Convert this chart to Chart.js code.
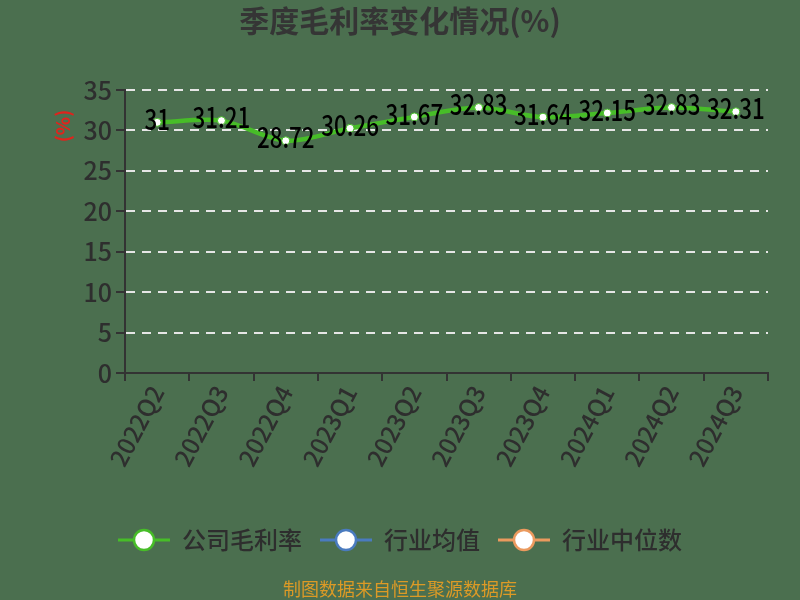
<!DOCTYPE html>
<html lang="zh">
<head>
<meta charset="UTF-8">
<title>季度毛利率变化情况</title>
<style>
  html, body { margin: 0; padding: 0; background: #4b6f4f; }
  #wrap { width: 800px; height: 600px; }
</style>
</head>
<body>
<div id="wrap"><canvas id="chart" width="800" height="600"></canvas></div>
<script src="https://cdn.jsdelivr.net/npm/chart.js"></script>
<script>
const quarters = ['2022Q2', '2022Q3', '2022Q4', '2023Q1', '2023Q2', '2023Q3', '2023Q4', '2024Q1', '2024Q2', '2024Q3'];
const grossMargin = [31, 31.21, 28.72, 30.26, 31.67, 32.83, 31.64, 32.15, 32.83, 32.31];
const industryAvg = [];
const industryMedian = [];
const yTicks = [0, 5, 10, 15, 20, 25, 30, 35];

const cjk = '"Noto Sans CJK SC", "Noto Sans", sans-serif';

// legend marker: short line with a circle in the middle
function legendIcon(color) {
    const c = document.createElement('canvas');
    c.width = 52; c.height = 26;
    const g = c.getContext('2d');
    g.strokeStyle = color; g.lineWidth = 3;
    g.beginPath(); g.moveTo(0, 13); g.lineTo(52, 13); g.stroke();
    g.fillStyle = '#fff'; g.lineWidth = 2.5;
    g.beginPath(); g.arc(26, 13, 10, 0, Math.PI * 2); g.fill(); g.stroke();
    return c;
}

// value labels + y title + footer
const extras = {
    id: 'extras',
    afterDatasetsDraw(chart) {
        const ctx = chart.ctx;
        const meta = chart.getDatasetMeta(0);
        meta.data.forEach((pt, i) => {
            ctx.save();
            ctx.translate(pt.x, pt.y - 3);
            ctx.scale(0.8, 1);
            ctx.font = '500 28px ' + cjk;
            ctx.fillStyle = '#000';
            ctx.textAlign = 'center';
            ctx.textBaseline = 'middle';
            ctx.fillText(String(grossMargin[i]), 0, 0);
            ctx.restore();
        });
    },
    afterDraw(chart) {
        const ctx = chart.ctx;
        ctx.save();
        ctx.translate(63, 126);
        ctx.rotate(-Math.PI / 2);
        ctx.font = 'bold 19px ' + cjk;
        ctx.fillStyle = '#e0231c';
        ctx.textAlign = 'center';
        ctx.textBaseline = 'middle';
        ctx.fillText('(%)', 0, 0);
        ctx.restore();

        ctx.save();
        ctx.font = '18px ' + cjk;
        ctx.fillStyle = '#dc9a26';
        ctx.textAlign = 'center';
        ctx.textBaseline = 'middle';
        ctx.fillText('制图数据来自恒生聚源数据库', 400, 589);
        ctx.restore();
    }
};

const bg = {
    id: 'bg',
    beforeDraw(chart) {
        const ctx = chart.ctx;
        ctx.save();
        ctx.fillStyle = '#4b6f4f';
        ctx.fillRect(0, 0, chart.width, chart.height);
        ctx.restore();
    }
};

new Chart(document.getElementById('chart'), {
    type: 'line',
    data: {
        labels: quarters,
        datasets: [
            {
                label: '公司毛利率',
                data: grossMargin,
                borderColor: '#47bd28',
                borderWidth: 4.5,
                pointBackgroundColor: '#ffffff',
                pointBorderColor: '#47bd28',
                pointRadius: 4,
                pointBorderWidth: 1,
                tension: 0.3,
                fill: false
            },
            {
                label: '行业均值',
                data: industryAvg,
                borderColor: '#4a7bbf',
                pointStyle: false
            },
            {
                label: '行业中位数',
                data: industryMedian,
                borderColor: '#eb9a5e',
                pointStyle: false
            }
        ]
    },
    options: {
        responsive: false,
        animation: false,
        layout: { padding: { left: 0, right: 0, top: 0, bottom: 38 } },
        plugins: {
            title: {
                display: true,
                text: '季度毛利率变化情况(%)',
                color: '#353535',
                font: { family: cjk, size: 30, weight: 'bold' },
                padding: { top: 3, bottom: 51 }
            },
            legend: {
                position: 'bottom',
                labels: {
                    color: '#2e2e2e',
                    font: { family: cjk, size: 24, weight: '500' },
                    usePointStyle: true,
                    pointStyleWidth: 52,
                    padding: 18,
                    generateLabels(chart) {
                        const cols = ['#47bd28', '#4a7bbf', '#eb9a5e'];
                        return chart.data.datasets.map((ds, i) => ({
                            text: ds.label,
                            fontColor: '#2e2e2e',
                            pointStyle: legendIcon(cols[i]),
                            datasetIndex: i,
                            hidden: false,
                            lineWidth: 0
                        }));
                    }
                }
            },
            tooltip: { enabled: false }
        },
        scales: {
            x: {
                offset: true,
                afterFit(s) { s.height = 137; },
                grid: {
                    display: true,
                    drawOnChartArea: false,
                    drawTicks: true,
                    tickLength: 8,
                    color: '#333',
                    lineWidth: 2,
                    offset: true
                },
                border: { color: '#333', width: 2 },
                ticks: {
                    color: '#2e2e2e',
                    font: { family: cjk, size: 24, weight: '500' },
                    minRotation: 62,
                    maxRotation: 62,
                    padding: 0
                }
            },
            y: {
                min: 0,
                max: 35,
                afterFit(s) { s.width = 125; },
                afterBuildTicks(s) { s.ticks = yTicks.map(v => ({ value: v })); },
                grid: {
                    color: (c) => c.tick.value === 0 ? 'rgba(0,0,0,0)' : '#e6e6e6',
                    lineWidth: 2,
                    drawTicks: true,
                    tickLength: 9,
                    tickColor: '#333',
                    tickWidth: 2
                },
                border: { color: '#333', width: 2, dash: [9, 7] },
                ticks: {
                    color: '#2e2e2e',
                    font: { family: cjk, size: 25, weight: '500' },
                    padding: 4
                }
            },
            // empty spacer on the right so the plot ends at x≈768
            spacer: {
                type: 'linear',
                position: 'right',
                afterFit(s) { s.width = 32; },
                grid: { display: false, drawTicks: false },
                border: { display: false },
                ticks: { display: false }
            }
        }
    },
    plugins: [bg, extras]
});
</script>
</body>
</html>
